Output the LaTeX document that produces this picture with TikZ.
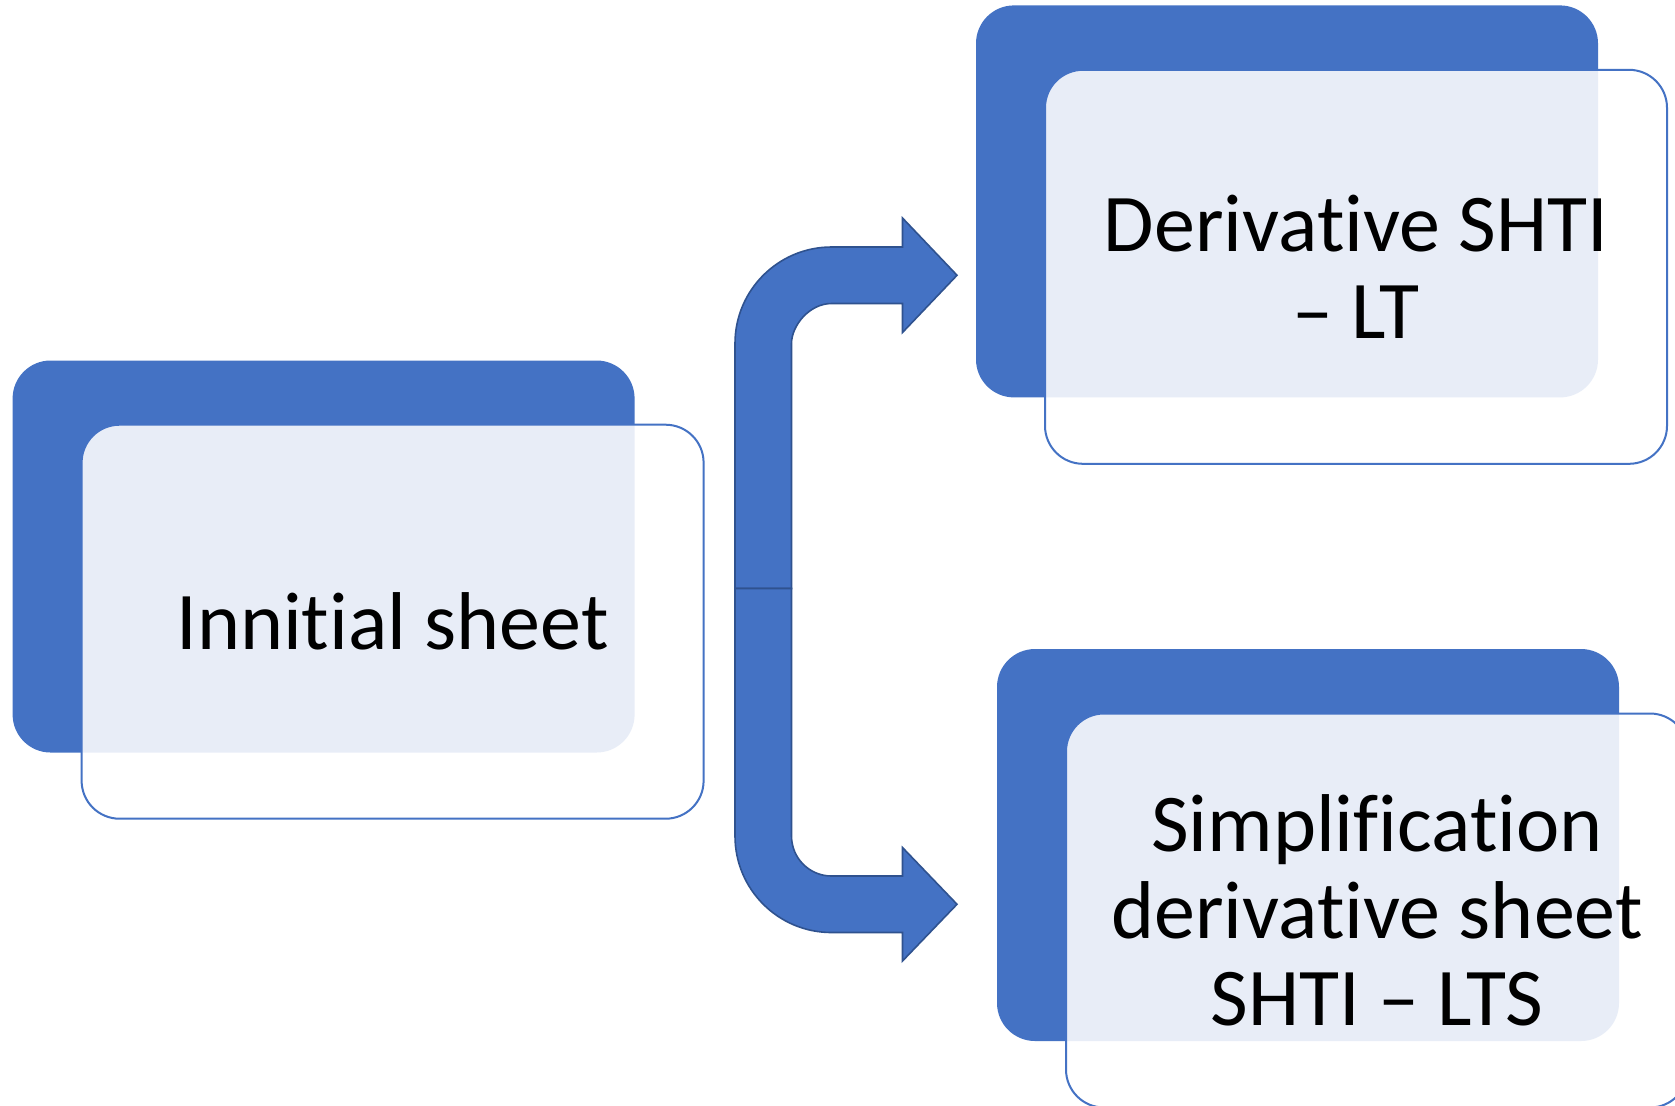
\documentclass[tikz,border=0pt]{standalone}
\usepackage{fontspec}
\setmainfont{Carlito}[Ligatures={NoCommon,NoRare,NoContextual}]
\definecolor{accent}{HTML}{4472C4}
\definecolor{accentdark}{HTML}{2F528F}
\begin{document}
\begin{tikzpicture}[x=0.5pt,y=-0.5pt,
  backbox/.style={fill=accent, rounded corners=19pt, minimum width=311pt, minimum height=196pt, inner sep=0pt, outer sep=0pt},
  frontbox/.style={draw=accent, line width=1pt, fill=white, fill opacity=0.88, draw opacity=1, text opacity=1, rounded corners=19pt, minimum width=311pt, minimum height=197pt, inner sep=0pt, outer sep=0pt, align=center, font=\fontsize{41}{43.5}\selectfont},
  bentarrow/.style={fill=accent, draw=accentdark, line width=0.8pt, line join=miter}]
\clip (0,0) rectangle (1675,1105);
\fill[white] (0,0) rectangle (1675,1105);
% left group
\node[backbox] (b1) at (323.6,556.5) {};
\node[frontbox] (f1) at (392.6,621.7) {Innitial sheet};
% top right group
\node[backbox] (b2) at (1287,201.4) {};
\node[frontbox] (f2) at (1356,266.8) {Derivative SHTI\\– LT};
% bottom right group
\node[backbox] (b3) at (1308,845) {};
\node[frontbox] (f3) at (1377,910.5) {Simplification\\derivative sheet\\SHTI – LTS};
% bent arrows
\coordinate (split) at (763.25,588.5);
\draw[bentarrow] (735,588.5) -- (735,343.5) .. controls (735,290.2) and (778.2,247) .. (831.5,247)
  -- (902.5,247) -- (902.5,218) -- (957,275.25) -- (902.5,332.5) -- (902.5,303.5) -- (831.5,303.5)
  .. controls (809.4,303.5) and (791.5,325.6) .. (791.5,343.5) -- (791.5,588.5) -- cycle;
\draw[bentarrow] (735,588.5) -- (735,836) .. controls (735,889.3) and (778.2,932.5) .. (831.5,932.5)
  -- (902.5,932.5) -- (902.5,961) -- (957,904.25) -- (902.5,847.5) -- (902.5,876) -- (831.5,876)
  .. controls (809.4,876) and (791.5,858.1) .. (791.5,836) -- (791.5,588.5) -- cycle;
\end{tikzpicture}
\end{document}
